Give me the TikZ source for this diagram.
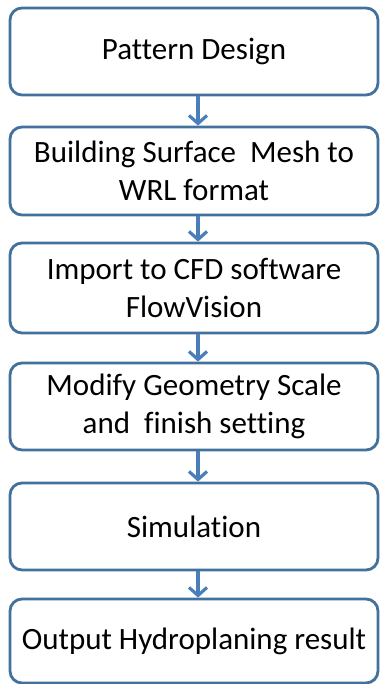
\documentclass[tikz,border=0pt]{standalone}
\usepackage{fontspec}
\setmainfont{Carlito}[Ligatures=NoCommon]
\usetikzlibrary{arrows.meta}
\definecolor{boxline}{HTML}{41719C}
\definecolor{arrowblue}{HTML}{4A7EBB}
\begin{document}
\begin{tikzpicture}[x=1pt,y=-1pt,
  stepbox/.style={draw=boxline, line width=2.8pt, rounded corners=12pt, fill=white,
    minimum width=368pt, align=center, inner sep=0pt,
    font=\fontsize{31}{38}\selectfont},
  flow/.style={draw=arrowblue, line width=3.2pt,
    -{Straight Barb[length=8pt,width=18pt,line width=3.2pt]}}]
\useasboundingbox (0,0) rectangle (380,684);
\node[stepbox, minimum height=87pt] (b1) at (194,51.5) {Pattern Design};
\node[stepbox, minimum height=88pt] (b2) at (194,171) {Building Surface\ \ Mesh to\\WRL format};
\node[stepbox, minimum height=90pt] (b3) at (194,288) {Import to CFD software\\FlowVision};
\node[stepbox, minimum height=87pt] (b4) at (194,406.5) {Modify Geometry Scale\\and\ \ finish setting};
\node[stepbox, minimum height=87pt] (b5) at (194,526.5) {Simulation};
\node[stepbox, minimum height=84pt] (b6) at (194,641) {Output Hydroplaning result};
\draw[flow] ([xshift=4pt]b1.south) -- ([xshift=4pt]b2.north);
\draw[flow] ([xshift=4pt]b2.south) -- ([xshift=4pt]b3.north);
\draw[flow] ([xshift=4pt]b3.south) -- ([xshift=4pt]b4.north);
\draw[flow] ([xshift=4pt]b4.south) -- ([xshift=4pt]b5.north);
\draw[flow] ([xshift=4pt]b5.south) -- ([xshift=4pt]b6.north);
\end{tikzpicture}
\end{document}
